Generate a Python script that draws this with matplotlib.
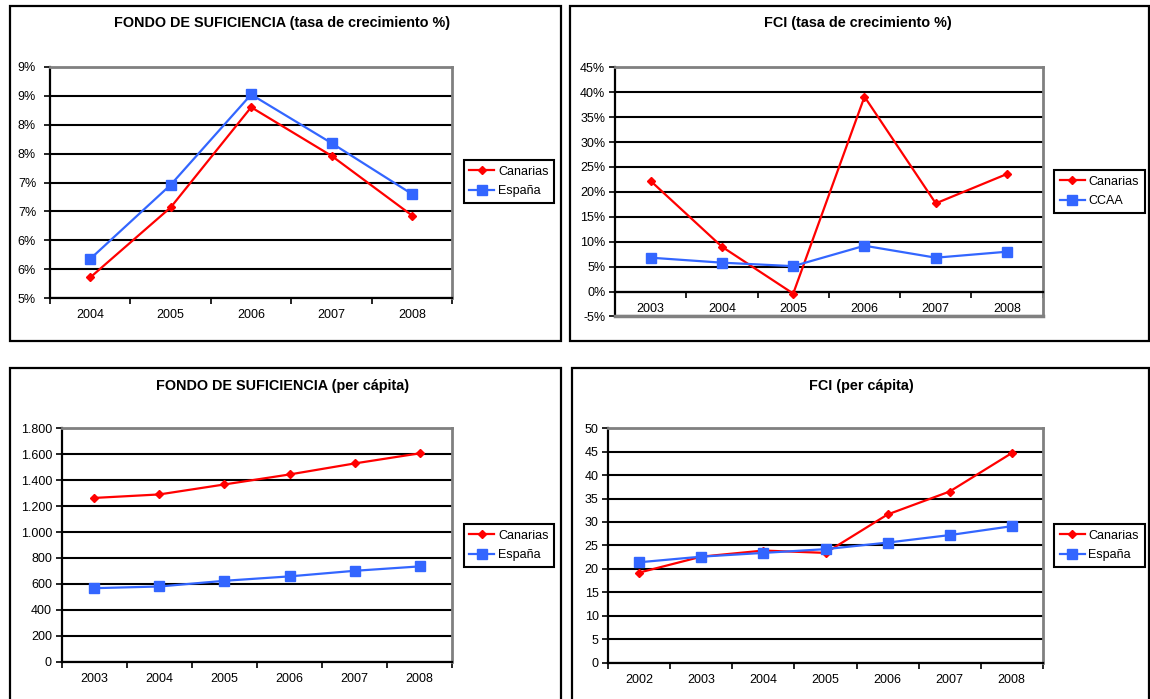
import math
import numpy as np
import matplotlib
matplotlib.use("Agg")
import matplotlib.pyplot as plt
from matplotlib.ticker import FuncFormatter, MultipleLocator
from matplotlib.patches import Rectangle

plt.rcParams['font.family'] = ['Liberation Sans', 'DejaVu Sans']

W, H = 1150, 699

# --- data ---
fs_tasa_years = [2004, 2005, 2006, 2007, 2008]
fs_tasa_canarias = [5.36, 6.57, 8.30, 7.46, 6.43]
fs_tasa_espana = [5.68, 6.96, 8.52, 7.68, 6.80]

fci_tasa_years = [2003, 2004, 2005, 2006, 2007, 2008]
fci_tasa_canarias = [22.2, 9.0, -0.4, 39.1, 17.7, 23.6]
fci_tasa_ccaa = [6.8, 5.8, 5.1, 9.2, 6.8, 8.0]

fs_pc_years = [2003, 2004, 2005, 2006, 2007, 2008]
fs_pc_canarias = [1263, 1290, 1367, 1444, 1529, 1607]
fs_pc_espana = [567, 580, 624, 658, 701, 735]

fci_pc_years = [2002, 2003, 2004, 2005, 2006, 2007, 2008]
fci_pc_canarias = [19.2, 22.6, 23.9, 23.4, 31.6, 36.5, 44.7]
fci_pc_espana = [21.4, 22.6, 23.4, 24.2, 25.6, 27.2, 29.1]

RED = '#FF0000'
BLUE = '#3366FF'
GRAY = '#808080'


def rect(x0, y0, x1, y1):
    # pixel box (top-left origin) -> figure fraction
    return [x0 / W, 1 - y1 / H, (x1 - x0) / W, (y1 - y0) / H]


def excel_round_pct(y, _):
    # Excel rounds half away from zero
    return f"{int(math.floor(y + 0.5 + 1e-9))}%"


def panel(fig, box, plot, title, title_xy, years, s1, s2, labels,
          ylim, ystep, fmt, legend_xy, axis_at=None, ypad=3):
    fig.patches.append(Rectangle((box[0] / W, 1 - box[3] / H),
                                 (box[2] - box[0]) / W, (box[3] - box[1]) / H,
                                 transform=fig.transFigure, fill=False,
                                 edgecolor='black', lw=1.6, clip_on=False))
    fig.text(title_xy[0] / W, 1 - title_xy[1] / H, title, ha='center',
             va='center', fontsize=10.4, fontweight='bold')

    ax = fig.add_axes(rect(*plot))
    n = len(years)
    x = np.arange(n)
    ax.plot(x, s1, color=RED, lw=1.6, marker='D', ms=4.5, label=labels[0], zorder=4)
    ax.plot(x, s2, color=BLUE, lw=1.6, marker='s', ms=6.5, label=labels[1], zorder=4)

    ax.set_xlim(-0.5, n - 0.5)
    ax.set_ylim(*ylim)
    ax.yaxis.set_major_locator(MultipleLocator(ystep))
    ax.yaxis.set_major_formatter(FuncFormatter(fmt))
    ax.set_xticks(x, [str(y) for y in years])
    ax.set_xticks(np.arange(-0.5, n), minor=True)
    ax.tick_params(axis='x', which='major', length=0, pad=8, labelsize=9)
    ax.tick_params(axis='x', which='minor', length=4, width=1.2, direction='out')
    ax.tick_params(axis='y', length=4, width=1.2, direction='out', pad=ypad, labelsize=9)

    ax.grid(axis='y', color='black', lw=1.5)
    for side in ('top', 'right'):
        ax.spines[side].set_color(GRAY)
        ax.spines[side].set_linewidth(2)
    ax.spines['left'].set_linewidth(1.6)
    ax.spines['bottom'].set_linewidth(1.6)
    if axis_at is not None:
        ax.spines['bottom'].set_position(('data', axis_at))
        ax.axhline(ylim[0], color=GRAY, lw=2.5, zorder=3, clip_on=False)

    leg = ax.legend(loc='upper left', bbox_to_anchor=(legend_xy[0] / W, 1 - legend_xy[1] / H),
                    bbox_transform=fig.transFigure, borderaxespad=0, fontsize=9,
                    frameon=True, fancybox=False, framealpha=1, edgecolor='black',
                    handlelength=2.0, handletextpad=0.3, borderpad=0.45,
                    labelspacing=0.6)
    leg.get_frame().set_linewidth(1.5)
    return ax


fig = plt.figure(figsize=(W / 100, H / 100), dpi=100)

panel(fig, (10, 6, 560.5, 340.5), (50, 66.7, 452.3, 298.3),
      "FONDO DE SUFICIENCIA (tasa de crecimiento %)", (282, 23.3),
      fs_tasa_years, fs_tasa_canarias, fs_tasa_espana, ["Canarias", "España"],
      (5, 9), 0.5, excel_round_pct, (463.6, 160), ypad=6)

panel(fig, (570, 6, 1148.5, 340.5), (615, 67.3, 1042.7, 316.5),
      "FCI (tasa de crecimiento %)", (858, 23.3),
      fci_tasa_years, fci_tasa_canarias, fci_tasa_ccaa, ["Canarias", "CCAA"],
      (-5, 45), 5, lambda y, _: f"{y:.0f}%", (1054, 170), axis_at=0)

panel(fig, (10, 368, 561, 710), (61.7, 428.3, 452.3, 661.7),
      "FONDO DE SUFICIENCIA (per cápita)", (283, 386),
      fs_pc_years, fs_pc_canarias, fs_pc_espana, ["Canarias", "España"],
      (0, 1800), 200, lambda y, _: f"{y:,.0f}".replace(",", "."), (463.6, 524))

panel(fig, (572, 368, 1148.5, 710), (608.3, 428.3, 1042.7, 662.5),
      "FCI (per cápita)", (861, 386),
      fci_pc_years, fci_pc_canarias, fci_pc_espana, ["Canarias", "España"],
      (0, 50), 5, lambda y, _: f"{y:.0f}", (1054, 524))

fig.savefig("out.png", dpi=100)
